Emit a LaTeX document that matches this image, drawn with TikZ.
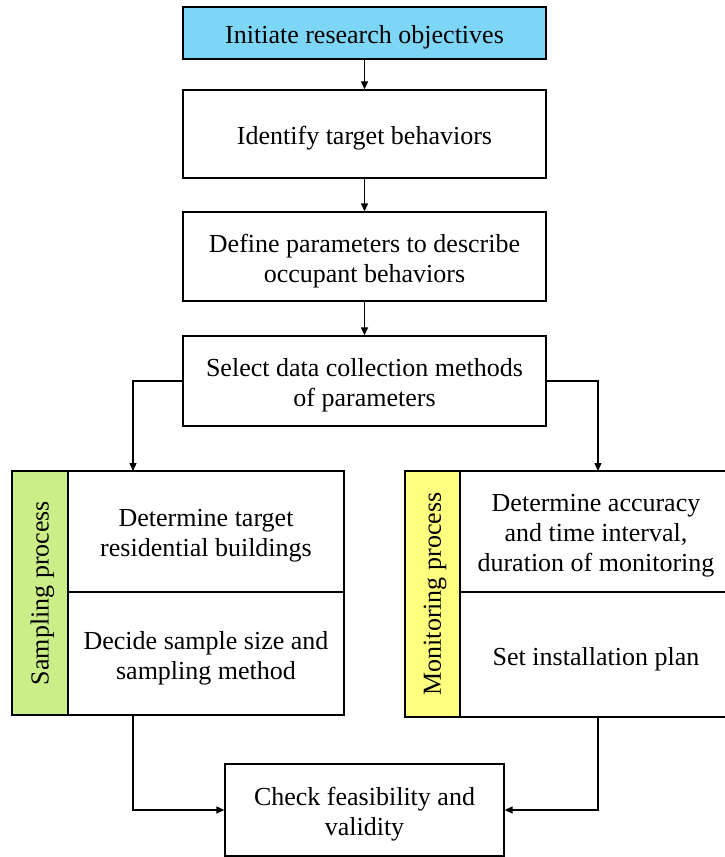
\documentclass[tikz,border=0pt]{standalone}
\usepackage{fontspec}
\setmainfont{Liberation Serif}
\usetikzlibrary{arrows.meta}
\definecolor{hdrblue}{RGB}{125,214,246}
\definecolor{sgreen}{RGB}{204,238,136}
\definecolor{myellow}{RGB}{255,255,128}
\tikzset{
  txt/.style={align=center, inner sep=0pt, font=\fontsize{26}{30}\selectfont},
  box/.style={draw=black, line width=1.3pt, inner sep=0pt},
  tbox/.style={box, label={[txt, yshift=-4.5pt]center:{#1}}},
  vbox/.style={box, label={[txt, rotate=90, yshift=-2.5pt]center:{#1}}},
  arr/.style={line width=1.3pt, -{Triangle[length=8pt,width=7pt]}},
}
\begin{document}
\begin{tikzpicture}[x=1pt,y=-1pt]
\useasboundingbox (0,0) rectangle (725,857);
% main column
\node[tbox={Initiate research objectives}, fill=hdrblue, minimum width=363pt, minimum height=52pt] (init) at (364.5,33) {};
\node[tbox={Identify target behaviors}, minimum width=363pt, minimum height=88pt] (ident) at (364.5,134) {};
\node[tbox={Define parameters to describe\\occupant behaviors}, minimum width=363pt, minimum height=89pt] (defn) at (364.5,256.5) {};
\node[tbox={Select data collection methods\\of parameters}, minimum width=363pt, minimum height=90pt] (sel) at (364.5,381) {};
% sampling group
\node[vbox={Sampling process}, fill=sgreen, minimum width=56pt, minimum height=244pt] (sstrip) at (40,593) {};
\node[tbox={Determine target\\residential buildings}, minimum width=276pt, minimum height=121pt] (stop) at (206,531.5) {};
\node[tbox={Decide sample size and\\sampling method}, minimum width=276pt, minimum height=123pt] (sbot) at (206,653.5) {};
% monitoring group
\node[vbox={Monitoring process}, fill=myellow, minimum width=55pt, minimum height=246pt] (mstrip) at (432.5,594) {};
\node[tbox={Determine accuracy\\and time interval,\\duration of monitoring}, minimum width=272pt, minimum height=121pt] (mtop) at (596,531.5) {};
\node[tbox={Set installation plan}, minimum width=272pt, minimum height=125pt] (mbot) at (596,654.5) {};
% final
\node[tbox={Check feasibility and\\validity}, minimum width=279pt, minimum height=92pt] (chk) at (364.5,810) {};
% drop points
\coordinate (ldrop) at (133,471);
\coordinate (rdrop) at (598,471);
% connectors
\draw[arr] (init.south) -- (ident.north);
\draw[arr] (ident.south) -- (defn.north);
\draw[arr] (defn.south) -- (sel.north);
\draw[arr] (sel.west) -| (ldrop);
\draw[arr] (sel.east) -| (rdrop);
\draw[arr] (sbot.south -| ldrop) |- (chk.west);
\draw[arr] (mbot.south -| rdrop) |- (chk.east);
\end{tikzpicture}
\end{document}
